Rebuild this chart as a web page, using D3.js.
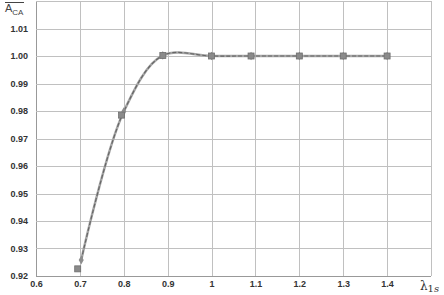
<!doctype html>
<html lang="en">
<head>
<meta charset="utf-8">
<script src="https://cdn.jsdelivr.net/npm/d3@7"></script>
<style>
body{margin:0;padding:0;background:#fff;}
svg{display:block;}
.tick text{font-family:"Liberation Sans",Arial,sans-serif;font-size:9px;font-weight:bold;fill:#333;}
</style>
</head>
<body>
<svg id="chartSvg"></svg>
<script>
// data
var xTicks = [0.6,0.7,0.8,0.9,1.0,1.1,1.2,1.3,1.4,1.5];
var yTicks = [0.92,0.93,0.94,0.95,0.96,0.97,0.98,0.99,1.00,1.01,1.02];
var xLabels = ["0.6","0.7","0.8","0.9","1","1.1","1.2","1.3","1.4",""];
var yLabels = ["0.92","0.93","0.94","0.95","0.96","0.97","0.98","0.99","1.00","1.01",""];

// series 1 : squares
var sqX = [0.695,0.795,0.889,1.0,1.09,1.2,1.3,1.4];
var sqY = [0.9226,0.9785,1.0002,1.0,1.0,1.0,1.0,1.0];
// series 2 : diamonds, smoothed line
var dmX = [0.703,0.8,0.889,1.0,1.09,1.2,1.3,1.4];
var dmY = [0.9258,0.9798,1.0002,1.0,1.0,1.0,1.0,1.0];

var width = 444, height = 295;
var pLeft = 36, pRight = 431, pTop = 1, pBottom = 276;

var svg = d3.select("#chartSvg").attr("width",width).attr("height",height);

var x = d3.scaleLinear().domain([0.6,1.5]).range([pLeft,pRight]);
var y = d3.scaleLinear().domain([0.92,1.02]).range([pBottom,pTop]);

//grid
var grid = svg.append("g");
grid.selectAll("line.v").data(xTicks).enter().append("line")
	.attr("x1",function(d){return Math.round(x(d))+0.5;})
	.attr("x2",function(d){return Math.round(x(d))+0.5;})
	.attr("y1",pTop).attr("y2",pBottom)
	.style("stroke",function(d,i){return i==0?"#999":"#c0c0c0";})
	.style("stroke-width",1);
grid.selectAll("line.h").data(yTicks).enter().append("line")
	.attr("x1",pLeft).attr("x2",pRight)
	.attr("y1",function(d){return Math.round(y(d))+0.5;})
	.attr("y2",function(d){return Math.round(y(d))+0.5;})
	.style("stroke",function(d,i){return i==0?"#999":"#c0c0c0";})
	.style("stroke-width",1);

//axes labels
var xAxis = d3.axisBottom(x).tickValues(xTicks).tickSize(0).tickPadding(5)
	.tickFormat(function(d,i){return xLabels[i];});
svg.append("g").attr("transform","translate(0,"+pBottom+")").call(xAxis)
	.call(function(g){g.select(".domain").remove();});

var yAxis = d3.axisLeft(y).tickValues(yTicks).tickSize(0).tickPadding(8)
	.tickFormat(function(d,i){return yLabels[i];});
svg.append("g").attr("transform","translate("+pLeft+",0)").call(yAxis)
	.call(function(g){g.select(".domain").remove();});

//lines
var pts = dmX.map(function(d,i){return [d,dmY[i]];});
var line = d3.line()
	.x(function(d){return x(d[0]);})
	.y(function(d){return y(d[1]);})
	.curve(d3.curveCatmullRom.alpha(0.5));
svg.append("path").datum(pts).attr("d",line)
	.attr("fill","none").style("stroke","#a6a6a6").style("stroke-width",2.5);
svg.append("path").datum(pts).attr("d",line)
	.attr("fill","none").style("stroke","#666").style("stroke-width",1.2)
	.style("stroke-dasharray","4,2");

//markers
svg.append("g").selectAll("path").data(dmX).enter().append("path")
	.attr("d",d3.symbol().type(d3.symbolDiamond).size(22))
	.attr("transform",function(d,i){return "translate("+x(d)+","+y(dmY[i])+")";})
	.attr("fill","#8c8c8c");
svg.append("g").selectAll("rect").data(sqX).enter().append("rect")
	.attr("x",function(d){return x(d)-3;})
	.attr("y",function(d,i){return y(sqY[i])-3;})
	.attr("width",6).attr("height",6)
	.attr("fill","#8a8a8a").attr("stroke","#6e6e6e").attr("stroke-width",0.8);

//axis titles
var yt = svg.append("text").attr("x",5).attr("y",12)
	.attr("font-family","Liberation Sans,Arial,sans-serif").attr("fill","#444");
yt.append("tspan").attr("font-size",11).text("A");
yt.append("tspan").attr("font-size",8).attr("dy",3).text("CA");
svg.append("line").attr("x1",5).attr("x2",24).attr("y1",2.5).attr("y2",2.5)
	.style("stroke","#444").style("stroke-width",1);

var xt = svg.append("text").attr("x",420).attr("y",290)
	.attr("font-family","DejaVu Serif,serif").attr("fill","#333");
xt.append("tspan").attr("font-size",12).text("λ");
xt.append("tspan").attr("font-size",10).attr("dy",2).text("1");
xt.append("tspan").attr("font-size",10).attr("font-style","italic").text("s");
</script>
</body>
</html>
